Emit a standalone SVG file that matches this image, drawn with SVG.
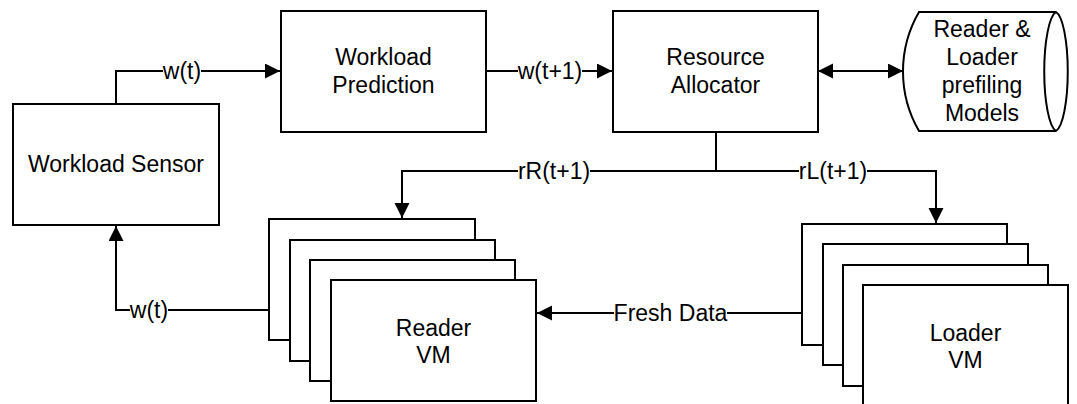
<svg xmlns="http://www.w3.org/2000/svg" width="1077" height="404" viewBox="0 0 1077 404">
<style>
.box{fill:#fff;stroke:#000;stroke-width:2}
.ln{fill:none;stroke:#000;stroke-width:2}
text{font-family:"Liberation Sans",Arial,sans-serif;font-size:23px;fill:#000;text-anchor:middle}
.bg{fill:#fff}
</style>
<defs>
<marker id="ah" markerUnits="userSpaceOnUse" markerWidth="16" markerHeight="16" refX="15" refY="7.5" orient="auto-start-reverse">
<path d="M0,0 L15,7.5 L0,15 z" fill="#000"/>
</marker>
</defs>
<rect width="1077" height="404" fill="#fff"/>
<g id="connectors">
<path class="ln" d="M116,104 V71 H280" marker-end="url(#ah)"/>
<rect class="bg" x="163" y="60" width="38" height="24"/>
<text x="182" y="79">w(t)</text>
<path class="ln" d="M486,71 H612" marker-end="url(#ah)"/>
<rect class="bg" x="518" y="60" width="64" height="24"/>
<text x="550" y="79">w(t+1)</text>
<path class="ln" d="M818,71 H903" marker-start="url(#ah)" marker-end="url(#ah)"/>
<path class="ln" d="M716,132 V171"/>
<path class="ln" d="M716,171 H402 V218" marker-end="url(#ah)"/>
<path class="ln" d="M716,171 H936 V223" marker-end="url(#ah)"/>
<rect class="bg" x="518" y="160" width="72" height="24"/>
<text x="554" y="179">rR(t+1)</text>
<rect class="bg" x="799" y="160" width="68" height="24"/>
<text x="833" y="179">rL(t+1)</text>
<path class="ln" d="M269,310 H116 V226" marker-end="url(#ah)"/>
<rect class="bg" x="130" y="299" width="38" height="24"/>
<text x="149" y="318">w(t)</text>
<path class="ln" d="M802,313 H537" marker-end="url(#ah)"/>
<rect class="bg" x="614" y="302" width="113" height="24"/>
<text x="670.5" y="321">Fresh Data</text>
</g>
<g id="workload-sensor">
<rect class="box" x="13" y="104" width="206" height="121"/>
<text x="116" y="172">Workload Sensor</text>
</g>
<g id="workload-prediction">
<rect class="box" x="281" y="11" width="205" height="121"/>
<text x="383.5" y="65">Workload</text>
<text x="383.5" y="93">Prediction</text>
</g>
<g id="resource-allocator">
<rect class="box" x="613" y="11" width="205" height="121"/>
<text x="715.5" y="65">Resource</text>
<text x="715.5" y="93">Allocator</text>
</g>
<g id="models">
<path class="box" d="M919,12 H1056 A13.5,60 0 0 1 1056,131 H919 A118.6,118.6 0 0 1 919,12 z"/>
<path class="ln" d="M1056,12 A13.5,60 0 0 0 1056,131"/>
<text x="982" y="37">Reader &amp;</text>
<text x="982" y="65">Loader</text>
<text x="982" y="93">prefiling</text>
<text x="982" y="121">Models</text>
</g>
<g id="reader-vm">
<rect class="box" x="269" y="219" width="206" height="121"/>
<rect class="box" x="290" y="240" width="205" height="121"/>
<rect class="box" x="310" y="260" width="205" height="121"/>
<rect class="box" x="331" y="280" width="205" height="121"/>
<text x="433.5" y="336">Reader</text>
<text x="433.5" y="363">VM</text>
</g>
<g id="loader-vm">
<rect class="box" x="802" y="224" width="205" height="121"/>
<rect class="box" x="823" y="244" width="205" height="121"/>
<rect class="box" x="843" y="265" width="205" height="121"/>
<rect class="box" x="863" y="285" width="205" height="121"/>
<text x="965.5" y="341">Loader</text>
<text x="965.5" y="368">VM</text>
</g>
</svg>
